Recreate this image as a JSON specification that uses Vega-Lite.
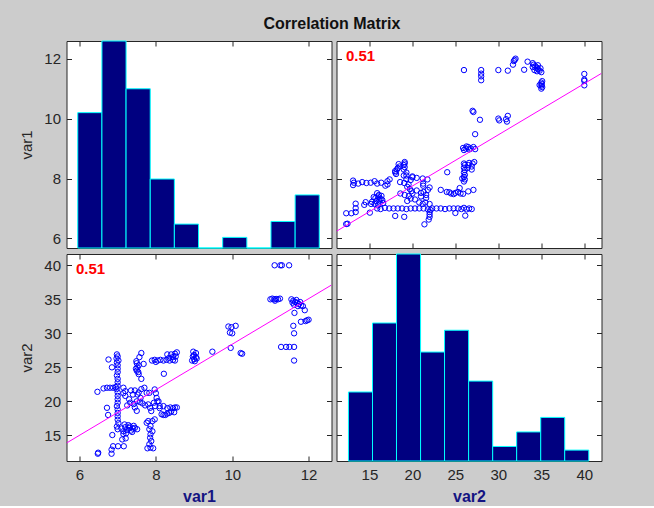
{
  "$schema": "https://vega.github.io/schema/vega-lite/v6.json",
  "background": "#cccccc",
  "padding": {"left": 18.5, "top": 15, "right": 55, "bottom": 1},
  "title": {"text": "Correlation Matrix", "font": "Liberation Sans", "fontSize": 16, "fontWeight": "bold", "color": "#111111", "anchor": "middle", "offset": 8.5, "dx": 21},
  "config": {
    "view": {"stroke": "#262626", "strokeWidth": 1, "fill": "white"},
    "axis": {"domain": false, "grid": false, "ticks": true, "tickSize": -5, "tickColor": "#262626", "tickWidth": 1,
      "labelFont": "Liberation Sans", "labelFontSize": 15, "labelColor": "#262626", "labelPadding": 11, "labelFlush": false, "labelOverlap": false,
      "titleFont": "Liberation Sans", "titleFontSize": 15, "titleFontWeight": "normal", "titleColor": "#262626", "titlePadding": 9}
  },
  "datasets": {
    "pts": [
      {"var1": 11.11, "var2": 40}, {"var1": 11.26, "var2": 40}, {"var1": 11.30, "var2": 40}, {"var1": 11.49, "var2": 40},
      {"var1": 11.0, "var2": 35}, {"var1": 11.05, "var2": 35.1}, {"var1": 11.1, "var2": 35}, {"var1": 11.15, "var2": 35.05}, {"var1": 11.2, "var2": 35}, {"var1": 11.25, "var2": 35.1}, {"var1": 11.12, "var2": 34.8},
      {"var1": 11.55, "var2": 35.0}, {"var1": 11.6, "var2": 34.8}, {"var1": 11.65, "var2": 34.6}, {"var1": 11.7, "var2": 34.5}, {"var1": 11.75, "var2": 34.3}, {"var1": 11.8, "var2": 34.1}, {"var1": 11.85, "var2": 34.0}, {"var1": 11.62, "var2": 34.2}, {"var1": 11.68, "var2": 34.9}, {"var1": 11.72, "var2": 34.0}, {"var1": 11.58, "var2": 34.5}, {"var1": 11.78, "var2": 34.6},
      {"var1": 11.9, "var2": 33.4}, {"var1": 11.63, "var2": 33.0},
      {"var1": 12.0, "var2": 32.0}, {"var1": 11.92, "var2": 31.8}, {"var1": 11.8, "var2": 31.7}, {"var1": 11.96, "var2": 31.9},
      {"var1": 11.6, "var2": 31.1}, {"var1": 11.62, "var2": 30.0},
      {"var1": 11.28, "var2": 28}, {"var1": 11.41, "var2": 28}, {"var1": 11.5, "var2": 28}, {"var1": 11.62, "var2": 28},
      {"var1": 11.62, "var2": 26.0},
      {"var1": 9.9, "var2": 31.0}, {"var1": 10.09, "var2": 31.1}, {"var1": 9.98, "var2": 30.9}, {"var1": 9.94, "var2": 30.1}, {"var1": 10.0, "var2": 30.0}, {"var1": 9.96, "var2": 27.86}, {"var1": 10.22, "var2": 27.1}, {"var1": 10.26, "var2": 27.0}, {"var1": 9.48, "var2": 27.3},
      {"var1": 8.95, "var2": 26.0}, {"var1": 9.0, "var2": 26.2}, {"var1": 9.05, "var2": 26.5}, {"var1": 9.0, "var2": 26.8}, {"var1": 9.05, "var2": 27.1}, {"var1": 8.98, "var2": 27.3}, {"var1": 9.07, "var2": 26.3}, {"var1": 9.02, "var2": 25.9}, {"var1": 8.97, "var2": 26.6},
      {"var1": 7.9, "var2": 26.0}, {"var1": 7.97, "var2": 26.1}, {"var1": 8.05, "var2": 26.0}, {"var1": 8.12, "var2": 26.1}, {"var1": 8.2, "var2": 26.0}, {"var1": 8.28, "var2": 26.1}, {"var1": 8.36, "var2": 26.0}, {"var1": 8.45, "var2": 26.1}, {"var1": 8.5, "var2": 26.0}, {"var1": 8.45, "var2": 26.5}, {"var1": 8.5, "var2": 27.0}, {"var1": 8.55, "var2": 27.2}, {"var1": 8.4, "var2": 26.9}, {"var1": 8.35, "var2": 26.4}, {"var1": 8.52, "var2": 26.6}, {"var1": 8.0, "var2": 25.8}, {"var1": 8.3, "var2": 26.9}, {"var1": 8.21, "var2": 24.05},
      {"var1": 7.62, "var2": 27.1}, {"var1": 7.57, "var2": 26.5}, {"var1": 7.49, "var2": 25.9}, {"var1": 7.5, "var2": 25.6}, {"var1": 7.55, "var2": 25.3}, {"var1": 7.68, "var2": 25.5}, {"var1": 7.52, "var2": 25.0}, {"var1": 7.5, "var2": 24.5}, {"var1": 7.55, "var2": 24.0}, {"var1": 7.62, "var2": 23.3}, {"var1": 7.48, "var2": 24.8}, {"var1": 7.54, "var2": 24.3},
      {"var1": 6.98, "var2": 26.9}, {"var1": 7.0, "var2": 26.6}, {"var1": 6.97, "var2": 26.3}, {"var1": 7.02, "var2": 26.0}, {"var1": 6.98, "var2": 25.7}, {"var1": 7.0, "var2": 25.3}, {"var1": 7.0, "var2": 24.8}, {"var1": 7.0, "var2": 24.3}, {"var1": 6.98, "var2": 23.8}, {"var1": 7.0, "var2": 23.3}, {"var1": 7.0, "var2": 22.8}, {"var1": 7.0, "var2": 22.3}, {"var1": 6.97, "var2": 21.8}, {"var1": 7.0, "var2": 21.3}, {"var1": 7.0, "var2": 20.8}, {"var1": 7.0, "var2": 20.3}, {"var1": 7.0, "var2": 19.8}, {"var1": 6.98, "var2": 19.3}, {"var1": 7.0, "var2": 18.8}, {"var1": 7.0, "var2": 18.3}, {"var1": 7.0, "var2": 17.8}, {"var1": 7.0, "var2": 17.3}, {"var1": 7.02, "var2": 16.8}, {"var1": 6.98, "var2": 16.3}, {"var1": 7.0, "var2": 15.9},
      {"var1": 6.76, "var2": 26.15}, {"var1": 6.85, "var2": 25.0}, {"var1": 6.72, "var2": 19.05}, {"var1": 6.75, "var2": 18.0},
      {"var1": 6.47, "var2": 21.4}, {"var1": 6.63, "var2": 21.9}, {"var1": 6.72, "var2": 22.0}, {"var1": 6.8, "var2": 22.0}, {"var1": 6.88, "var2": 22.0}, {"var1": 6.95, "var2": 22.1},
      {"var1": 6.49, "var2": 12.45}, {"var1": 6.48, "var2": 12.3}, {"var1": 6.84, "var2": 12.3}, {"var1": 6.84, "var2": 12.9}, {"var1": 6.88, "var2": 13.4}, {"var1": 7.01, "var2": 13.4}, {"var1": 7.16, "var2": 13.4}, {"var1": 6.86, "var2": 15.05}, {"var1": 7.12, "var2": 14.4}, {"var1": 7.21, "var2": 14.56},
      {"var1": 7.1, "var2": 16.0}, {"var1": 7.15, "var2": 15.6}, {"var1": 7.2, "var2": 16.2}, {"var1": 7.25, "var2": 15.8}, {"var1": 7.3, "var2": 16.1}, {"var1": 7.35, "var2": 15.7}, {"var1": 7.4, "var2": 16.0}, {"var1": 7.45, "var2": 16.1}, {"var1": 7.22, "var2": 15.3}, {"var1": 7.28, "var2": 16.5}, {"var1": 7.38, "var2": 15.5}, {"var1": 7.15, "var2": 15.2}, {"var1": 7.51, "var2": 15.9}, {"var1": 7.32, "var2": 16.3}, {"var1": 7.42, "var2": 16.4}, {"var1": 7.18, "var2": 16.6},
      {"var1": 7.15, "var2": 22.0}, {"var1": 7.2, "var2": 21.5}, {"var1": 7.15, "var2": 21.2}, {"var1": 7.2, "var2": 20.8}, {"var1": 7.35, "var2": 21.6}, {"var1": 7.45, "var2": 21.6}, {"var1": 7.55, "var2": 21.3}, {"var1": 7.4, "var2": 21.0}, {"var1": 7.52, "var2": 21.0}, {"var1": 7.33, "var2": 19.8}, {"var1": 7.42, "var2": 19.6}, {"var1": 7.5, "var2": 20.0}, {"var1": 7.58, "var2": 19.9}, {"var1": 7.65, "var2": 19.7}, {"var1": 7.72, "var2": 19.4}, {"var1": 7.45, "var2": 19.1}, {"var1": 7.5, "var2": 18.6}, {"var1": 7.25, "var2": 19.4}, {"var1": 7.6, "var2": 20.5}, {"var1": 7.3, "var2": 20.3}, {"var1": 7.62, "var2": 21.8}, {"var1": 7.7, "var2": 22.0},
      {"var1": 7.76, "var2": 21.25}, {"var1": 7.83, "var2": 21.25}, {"var1": 7.97, "var2": 21.75}, {"var1": 8.0, "var2": 21.2},
      {"var1": 7.80, "var2": 17.1}, {"var1": 7.91, "var2": 17.1}, {"var1": 7.97, "var2": 17.35}, {"var1": 7.76, "var2": 16.85}, {"var1": 7.86, "var2": 16.37}, {"var1": 7.83, "var2": 15.9}, {"var1": 7.91, "var2": 15.6}, {"var1": 7.86, "var2": 15.15}, {"var1": 7.85, "var2": 14.65}, {"var1": 7.88, "var2": 14.16}, {"var1": 7.83, "var2": 13.7}, {"var1": 7.86, "var2": 13.2}, {"var1": 7.78, "var2": 13.1}, {"var1": 7.93, "var2": 13.1}, {"var1": 7.85, "var2": 19.05}, {"var1": 7.88, "var2": 18.57}, {"var1": 7.80, "var2": 19.55}, {"var1": 7.95, "var2": 19.8},
      {"var1": 8.02, "var2": 20.5}, {"var1": 8.04, "var2": 20.0}, {"var1": 8.1, "var2": 19.3}, {"var1": 7.98, "var2": 19.3}, {"var1": 8.07, "var2": 20.0}, {"var1": 8.1, "var2": 19.0},
      {"var1": 8.15, "var2": 18.1}, {"var1": 8.2, "var2": 18.0}, {"var1": 8.25, "var2": 18.0}, {"var1": 8.3, "var2": 18.2}, {"var1": 8.35, "var2": 18.3}, {"var1": 8.4, "var2": 18.5}, {"var1": 8.45, "var2": 19.0}, {"var1": 8.5, "var2": 19.1}, {"var1": 8.55, "var2": 19.1}, {"var1": 8.3, "var2": 19.0}, {"var1": 8.38, "var2": 19.1}, {"var1": 8.48, "var2": 18.4}, {"var1": 8.2, "var2": 19.3}
    ],
    "h1": [
      {"bin_start": 5.955, "bin_end": 6.588, "count": 51}, {"bin_start": 6.588, "bin_end": 7.22, "count": 78}, {"bin_start": 7.22, "bin_end": 7.853, "count": 60},
      {"bin_start": 7.853, "bin_end": 8.485, "count": 26}, {"bin_start": 8.485, "bin_end": 9.118, "count": 9}, {"bin_start": 9.118, "bin_end": 9.75, "count": 0},
      {"bin_start": 9.75, "bin_end": 10.383, "count": 4}, {"bin_start": 10.383, "bin_end": 11.015, "count": 0}, {"bin_start": 11.015, "bin_end": 11.648, "count": 10},
      {"bin_start": 11.648, "bin_end": 12.28, "count": 20}
    ],
    "h2": [
      {"bin_start": 12.56, "bin_end": 15.36, "count": 19}, {"bin_start": 15.36, "bin_end": 18.15, "count": 38}, {"bin_start": 18.15, "bin_end": 20.95, "count": 57},
      {"bin_start": 20.95, "bin_end": 23.74, "count": 30}, {"bin_start": 23.74, "bin_end": 26.54, "count": 36}, {"bin_start": 26.54, "bin_end": 29.34, "count": 22},
      {"bin_start": 29.34, "bin_end": 32.13, "count": 4}, {"bin_start": 32.13, "bin_end": 34.93, "count": 8}, {"bin_start": 34.93, "bin_end": 37.72, "count": 12},
      {"bin_start": 37.72, "bin_end": 40.52, "count": 3}
    ],
    "fit1": [{"var1": 5.66, "var2": 13.87}, {"var1": 12.6, "var2": 37.1}],
    "fit2": [{"var2": 11.17, "var1": 6.24}, {"var2": 42.0, "var1": 11.51}],
    "r": [{"r": "0.51"}]
  },
  "spacing": 4,
  "vconcat": [
    {
      "spacing": 3,
      "hconcat": [
        {
          "width": 265, "height": 207,
          "resolve": {"scale": {"x": "independent", "y": "independent"}},
          "layer": [
            {
              "data": {"name": "h1"},
              "mark": {"type": "rect", "fill": "#000080", "stroke": "#00ffff", "strokeWidth": 1},
              "encoding": {
                "x": {"field": "bin_start", "type": "quantitative", "scale": {"domain": [5.66, 12.6], "nice": false, "zero": false}, "axis": {"orient": "bottom", "values": [6, 8, 10, 12], "labels": false, "title": null}},
                "x2": {"field": "bin_end"},
                "y": {"field": "count", "type": "quantitative", "scale": {"domain": [0, 78], "nice": false}, "axis": null}
              }
            },
            {
              "data": {"name": "r"},
              "mark": {"type": "point", "opacity": 0},
              "encoding": {
                "x": {"datum": 8, "type": "quantitative", "scale": {"domain": [5.66, 12.6], "nice": false, "zero": false}, "axis": {"orient": "top", "values": [6, 8, 10, 12], "labels": false, "title": null}},
                "y": {"datum": 8, "type": "quantitative", "scale": {"domain": [5.68, 12.59], "nice": false, "zero": false}, "axis": {"orient": "left", "values": [6, 8, 10, 12], "title": "var1"}}
              }
            },
            {
              "data": {"name": "r"},
              "mark": {"type": "point", "opacity": 0},
              "encoding": {
                "y": {"datum": 8, "type": "quantitative", "scale": {"domain": [5.68, 12.59], "nice": false, "zero": false}, "axis": {"orient": "right", "values": [6, 8, 10, 12], "labels": false, "title": null}}
              }
            }
          ]
        },
        {
          "width": 265, "height": 207,
          "resolve": {"scale": {"x": "independent", "y": "independent"}},
          "layer": [
            {
              "data": {"name": "pts"},
              "mark": {"type": "point", "filled": false, "stroke": "#0000ff", "strokeWidth": 1, "size": 29, "opacity": 1},
              "encoding": {
                "x": {"field": "var2", "type": "quantitative", "scale": {"domain": [11.17, 42.0], "nice": false, "zero": false}, "axis": {"orient": "bottom", "values": [15, 20, 25, 30, 35, 40], "labels": false, "title": null}},
                "y": {"field": "var1", "type": "quantitative", "scale": {"domain": [5.68, 12.59], "nice": false, "zero": false}, "axis": {"orient": "left", "values": [6, 8, 10, 12], "labels": false, "title": null}}
              }
            },
            {
              "data": {"name": "fit2"},
              "mark": {"type": "line", "stroke": "#ff00ff", "strokeWidth": 1, "clip": true},
              "encoding": {
                "x": {"field": "var2", "type": "quantitative", "scale": {"domain": [11.17, 42.0], "nice": false, "zero": false}, "axis": null},
                "y": {"field": "var1", "type": "quantitative", "scale": {"domain": [5.68, 12.59], "nice": false, "zero": false}, "axis": null}
              }
            },
            {
              "data": {"name": "r"},
              "mark": {"type": "text", "font": "Liberation Sans", "fontSize": 15, "fontWeight": "bold", "fill": "#ff0000", "align": "left", "baseline": "alphabetic", "dx": 9.5, "dy": 19.5},
              "encoding": {
                "text": {"field": "r"},
                "x": {"datum": 11.17, "type": "quantitative", "scale": {"domain": [11.17, 42.0], "nice": false, "zero": false}, "axis": null},
                "y": {"datum": 12.59, "type": "quantitative", "scale": {"domain": [5.68, 12.59], "nice": false, "zero": false}, "axis": null}
              }
            },
            {
              "data": {"name": "r"},
              "mark": {"type": "point", "opacity": 0},
              "encoding": {
                "x": {"datum": 20, "type": "quantitative", "scale": {"domain": [11.17, 42.0], "nice": false, "zero": false}, "axis": {"orient": "top", "values": [15, 20, 25, 30, 35, 40], "labels": false, "title": null}},
                "y": {"datum": 8, "type": "quantitative", "scale": {"domain": [5.68, 12.59], "nice": false, "zero": false}, "axis": {"orient": "right", "values": [6, 8, 10, 12], "labels": false, "title": null}}
              }
            }
          ]
        }
      ]
    },
    {
      "spacing": 3,
      "hconcat": [
        {
          "width": 265, "height": 207,
          "resolve": {"scale": {"x": "independent", "y": "independent"}},
          "layer": [
            {
              "data": {"name": "pts"},
              "mark": {"type": "point", "filled": false, "stroke": "#0000ff", "strokeWidth": 1, "size": 29, "opacity": 1},
              "encoding": {
                "x": {"field": "var1", "type": "quantitative", "scale": {"domain": [5.66, 12.6], "nice": false, "zero": false}, "axis": {"orient": "bottom", "values": [6, 8, 10, 12], "labelPadding": 11, "title": "var1", "titleFontSize": 16, "titleFontWeight": "bold", "titleColor": "#141482", "titlePadding": 6}},
                "y": {"field": "var2", "type": "quantitative", "scale": {"domain": [11.23, 41.66], "nice": false, "zero": false}, "axis": {"orient": "left", "values": [15, 20, 25, 30, 35, 40], "title": "var2"}}
              }
            },
            {
              "data": {"name": "fit1"},
              "mark": {"type": "line", "stroke": "#ff00ff", "strokeWidth": 1, "clip": true},
              "encoding": {
                "x": {"field": "var1", "type": "quantitative", "scale": {"domain": [5.66, 12.6], "nice": false, "zero": false}, "axis": null},
                "y": {"field": "var2", "type": "quantitative", "scale": {"domain": [11.23, 41.66], "nice": false, "zero": false}, "axis": null}
              }
            },
            {
              "data": {"name": "r"},
              "mark": {"type": "text", "font": "Liberation Sans", "fontSize": 15, "fontWeight": "bold", "fill": "#ff0000", "align": "left", "baseline": "alphabetic", "dx": 9.5, "dy": 19.5},
              "encoding": {
                "text": {"field": "r"},
                "x": {"datum": 5.66, "type": "quantitative", "scale": {"domain": [5.66, 12.6], "nice": false, "zero": false}, "axis": null},
                "y": {"datum": 41.66, "type": "quantitative", "scale": {"domain": [11.23, 41.66], "nice": false, "zero": false}, "axis": null}
              }
            },
            {
              "data": {"name": "r"},
              "mark": {"type": "point", "opacity": 0},
              "encoding": {
                "x": {"datum": 8, "type": "quantitative", "scale": {"domain": [5.66, 12.6], "nice": false, "zero": false}, "axis": {"orient": "top", "values": [6, 8, 10, 12], "labels": false, "title": null}},
                "y": {"datum": 20, "type": "quantitative", "scale": {"domain": [11.23, 41.66], "nice": false, "zero": false}, "axis": {"orient": "right", "values": [15, 20, 25, 30, 35, 40], "labels": false, "title": null}}
              }
            }
          ]
        },
        {
          "width": 265, "height": 207,
          "resolve": {"scale": {"x": "independent", "y": "independent"}},
          "layer": [
            {
              "data": {"name": "h2"},
              "mark": {"type": "rect", "fill": "#000080", "stroke": "#00ffff", "strokeWidth": 1},
              "encoding": {
                "x": {"field": "bin_start", "type": "quantitative", "scale": {"domain": [11.17, 42.0], "nice": false, "zero": false}, "axis": {"orient": "bottom", "values": [15, 20, 25, 30, 35, 40], "labelPadding": 11, "title": "var2", "titleFontSize": 16, "titleFontWeight": "bold", "titleColor": "#141482", "titlePadding": 6}},
                "x2": {"field": "bin_end"},
                "y": {"field": "count", "type": "quantitative", "scale": {"domain": [0, 57], "nice": false}, "axis": null}
              }
            },
            {
              "data": {"name": "r"},
              "mark": {"type": "point", "opacity": 0},
              "encoding": {
                "x": {"datum": 20, "type": "quantitative", "scale": {"domain": [11.17, 42.0], "nice": false, "zero": false}, "axis": {"orient": "top", "values": [15, 20, 25, 30, 35, 40], "labels": false, "title": null}},
                "y": {"datum": 20, "type": "quantitative", "scale": {"domain": [11.23, 41.66], "nice": false, "zero": false}, "axis": {"orient": "left", "values": [15, 20, 25, 30, 35, 40], "labels": false, "title": null}}
              }
            },
            {
              "data": {"name": "r"},
              "mark": {"type": "point", "opacity": 0},
              "encoding": {
                "y": {"datum": 20, "type": "quantitative", "scale": {"domain": [11.23, 41.66], "nice": false, "zero": false}, "axis": {"orient": "right", "values": [15, 20, 25, 30, 35, 40], "labels": false, "title": null}}
              }
            }
          ]
        }
      ]
    }
  ]
}
